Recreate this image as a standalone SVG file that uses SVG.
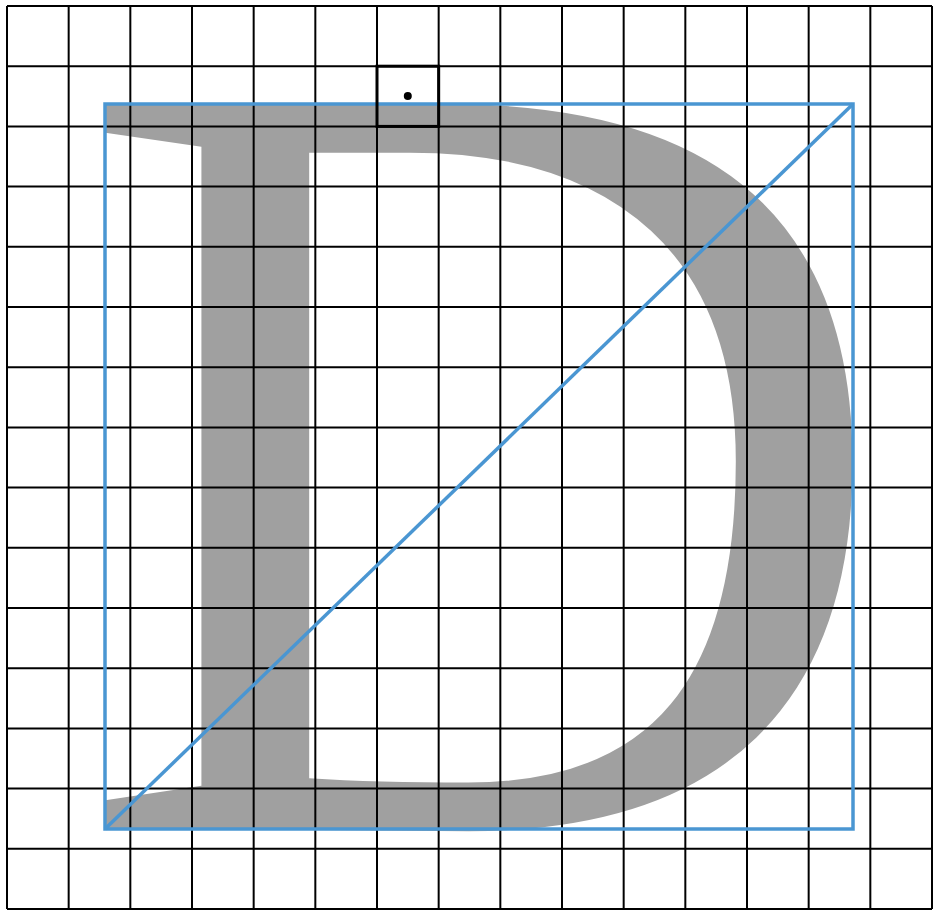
<svg xmlns="http://www.w3.org/2000/svg" width="933" height="911" viewBox="0 0 933 911">
<style>
.grid line{stroke:#000;stroke-width:2}
.blue{fill:none;stroke:#4a96d2;stroke-width:3.5}
.glyph{fill:#a0a0a0;font-family:"Liberation Serif","DejaVu Serif",serif}
</style>
<rect width="933" height="911" fill="#fff"/>
<g id="glyph">
<text class="glyph" transform="translate(105 829) scale(1.0444 1.0112)" x="-31.2" y="0" font-size="1095">D</text>
</g>
<g id="grid" class="grid">
<line x1="7" y1="6" x2="7" y2="909"/>
<line x1="68.67" y1="6" x2="68.67" y2="909"/>
<line x1="130.33" y1="6" x2="130.33" y2="909"/>
<line x1="192" y1="6" x2="192" y2="909"/>
<line x1="253.67" y1="6" x2="253.67" y2="909"/>
<line x1="315.33" y1="6" x2="315.33" y2="909"/>
<line x1="377" y1="6" x2="377" y2="909"/>
<line x1="438.67" y1="6" x2="438.67" y2="909"/>
<line x1="500.33" y1="6" x2="500.33" y2="909"/>
<line x1="562" y1="6" x2="562" y2="909"/>
<line x1="623.67" y1="6" x2="623.67" y2="909"/>
<line x1="685.33" y1="6" x2="685.33" y2="909"/>
<line x1="747" y1="6" x2="747" y2="909"/>
<line x1="808.67" y1="6" x2="808.67" y2="909"/>
<line x1="870.33" y1="6" x2="870.33" y2="909"/>
<line x1="932" y1="6" x2="932" y2="909"/>
<line x1="7" y1="6" x2="932" y2="6"/>
<line x1="7" y1="66.2" x2="932" y2="66.2"/>
<line x1="7" y1="126.4" x2="932" y2="126.4"/>
<line x1="7" y1="186.6" x2="932" y2="186.6"/>
<line x1="7" y1="246.8" x2="932" y2="246.8"/>
<line x1="7" y1="307" x2="932" y2="307"/>
<line x1="7" y1="367.2" x2="932" y2="367.2"/>
<line x1="7" y1="427.4" x2="932" y2="427.4"/>
<line x1="7" y1="487.6" x2="932" y2="487.6"/>
<line x1="7" y1="547.8" x2="932" y2="547.8"/>
<line x1="7" y1="608" x2="932" y2="608"/>
<line x1="7" y1="668.2" x2="932" y2="668.2"/>
<line x1="7" y1="728.4" x2="932" y2="728.4"/>
<line x1="7" y1="788.6" x2="932" y2="788.6"/>
<line x1="7" y1="848.8" x2="932" y2="848.8"/>
<line x1="7" y1="909" x2="932" y2="909"/>
</g>
<g id="bbox">
<rect class="blue" x="105" y="104" width="748" height="725"/>
<line class="blue" x1="105" y1="829" x2="853" y2="104"/>
</g>
<g id="marker">
<rect x="377" y="66.2" width="61.67" height="60.2" fill="none" stroke="#000" stroke-width="3"/>
<circle cx="407.8" cy="96" r="4" fill="#000"/>
</g>
</svg>
